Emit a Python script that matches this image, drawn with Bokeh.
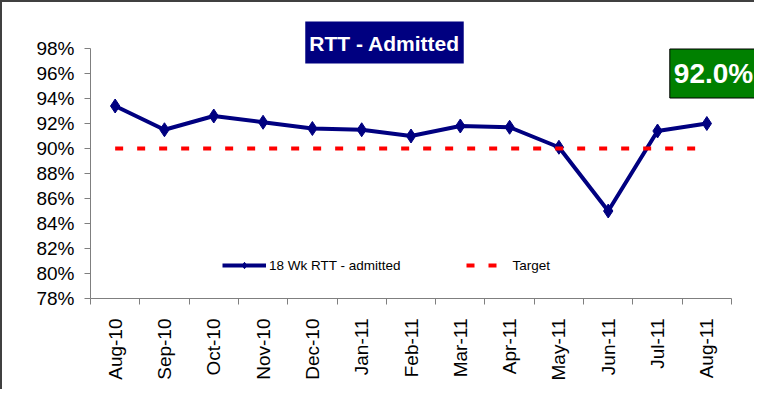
import math
from bokeh.plotting import figure
from bokeh.models import Label, FixedTicker, PrintfTickFormatter, Legend, LegendItem, Range1d
from bokeh.embed import file_html
from bokeh.resources import INLINE

months = ["Aug-10", "Sep-10", "Oct-10", "Nov-10", "Dec-10", "Jan-11", "Feb-11",
          "Mar-11", "Apr-11", "May-11", "Jun-11", "Jul-11", "Aug-11"]
rtt_admitted = [93.4, 91.5, 92.6, 92.1, 91.6, 91.5, 91.0, 91.8, 91.7, 90.1, 85.0, 91.4, 92.0]
target = [90, 90, 90, 90, 90, 90, 90, 90, 90, 90, 90, 90, 90]
y_ticks = [78, 80, 82, 84, 86, 88, 90, 92, 94, 96, 98]
title_text = "RTT - Admitted"
latest_text = "92.0%"

FONT = "Liberation Sans"
n = len(months)
xs = [i + 0.5 for i in range(n)]

p = figure(width=754, height=389, output_backend="svg", toolbar_location=None,
           x_range=Range1d(0, 13.507), y_range=Range1d(y_ticks[0], 100.88),
           min_border_left=88, min_border_top=10, min_border_right=0, min_border_bottom=93)
p.styles = {"border-left": "2px solid #404040", "border-top": "2px solid #404040"}
p.outline_line_color = None
p.xgrid.visible = False
p.ygrid.visible = False
p.background_fill_color = "white"
p.border_fill_color = "white"

# X axis
xa = p.xaxis[0]
xa.bounds = (0, n)
xa.ticker = FixedTicker(ticks=xs, minor_ticks=list(range(n + 1)))
xa.major_label_overrides = {x: m for x, m in zip(xs, months)}
xa.major_label_orientation = math.pi / 2
xa.major_tick_line_color = None
xa.major_tick_out = 0
xa.major_tick_in = 0
xa.minor_tick_out = 6
xa.minor_tick_in = 0
xa.minor_tick_line_color = "#7f7f7f"
xa.axis_line_color = "#7f7f7f"
xa.major_label_standoff = 14
xa.major_label_text_font = FONT
xa.major_label_text_font_size = "19px"
xa.major_label_text_color = "black"

# Y axis
ya = p.yaxis[0]
ya.bounds = (y_ticks[0], y_ticks[-1])
ya.ticker = FixedTicker(ticks=y_ticks)
ya.formatter = PrintfTickFormatter(format="%d%%")
ya.minor_tick_line_color = None
ya.major_tick_out = 6
ya.major_tick_in = 0
ya.major_tick_line_color = "#7f7f7f"
ya.axis_line_color = "#7f7f7f"
ya.major_label_standoff = 10
ya.major_label_text_font = FONT
ya.major_label_text_font_size = "19px"
ya.major_label_text_color = "black"

# Series
r_line = p.line(xs, rtt_admitted, line_color="#000080", line_width=4)
r_pts = p.scatter(xs, rtt_admitted, marker="diamond", size=14, fill_color="#000080",
                  line_color="#000080")
r_target = p.line(xs, target, line_color="#ff0000", line_width=4, line_dash="8 14")

legend = Legend(items=[LegendItem(label="18 Wk RTT - admitted", renderers=[r_line, r_pts]),
                       LegendItem(label="Target", renderers=[r_target])],
                orientation="horizontal", location=(132, 25),
                glyph_width=44, glyph_height=16, label_height=16,
                label_standoff=3, spacing=65, padding=0, margin=0,
                background_fill_alpha=0, border_line_color=None,
                label_text_font=FONT, label_text_font_size="13.5px",
                label_text_color="black")
p.add_layout(legend, "center")

title_label = Label(x=294, y=256, x_units="screen", y_units="screen", text=title_text,
                    text_font=FONT, text_font_style="bold", text_font_size="21px",
                    text_color="white", text_align="center", text_baseline="middle",
                    background_fill_color="#000080",
                    padding={"left": 4, "right": 4, "top": 10, "bottom": 9})
p.add_layout(title_label)

latest_label = Label(x=623, y=225, x_units="screen", y_units="screen", text=latest_text,
                     text_font=FONT, text_font_style="bold", text_font_size="28px",
                     text_color="white", text_align="center", text_baseline="middle",
                     background_fill_color="#008000", border_line_color="black",
                     border_line_width=1,
                     padding={"left": 4, "right": 4, "top": 9, "bottom": 9})
p.add_layout(latest_label)

open("out.html", "w").write(file_html(p, INLINE))
